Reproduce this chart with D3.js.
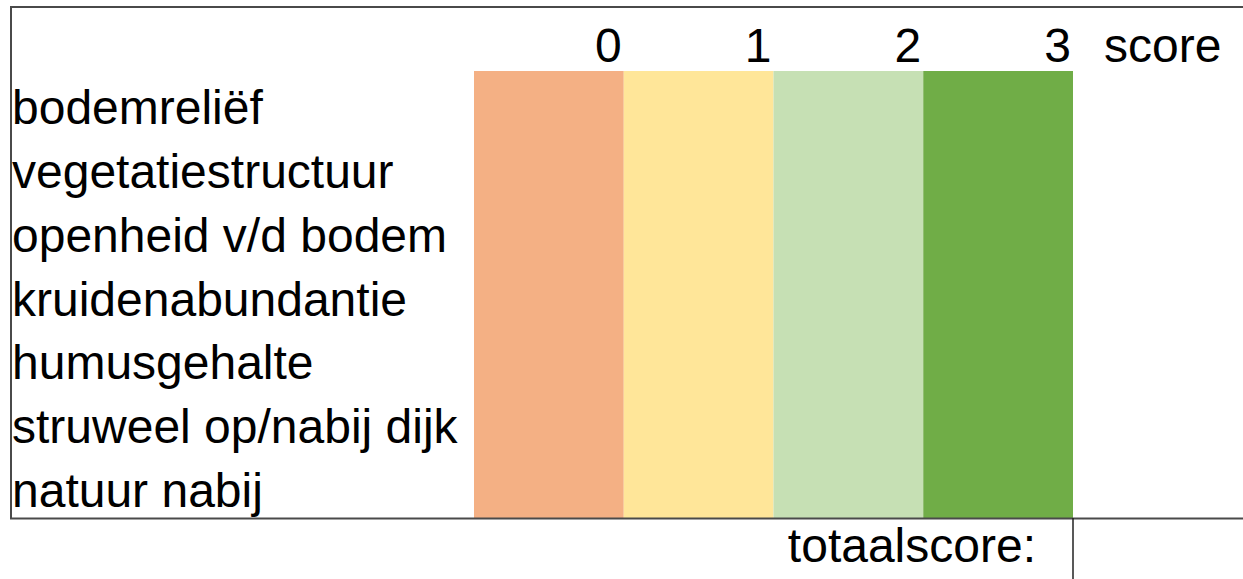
<!DOCTYPE html>
<html>
<head>
<meta charset="utf-8">
<script src="https://cdn.jsdelivr.net/npm/d3@7"></script>
<style>
  html, body { margin: 0; padding: 0; background: #fff; }
  svg { display: block; }
  text { font-family: "Liberation Sans", Arial, Helvetica, sans-serif; fill: #000; }
</style>
</head>
<body>
<svg id="chart" width="1243" height="579"></svg>
<script>
const criteria = ["bodemreliëf", "vegetatiestructuur", "openheid v/d bodem", "kruidenabundantie", "humusgehalte", "struweel op/nabij dijk", "natuur nabij"];
const scores = [0, 1, 2, 3];
const scoreColors = ["#F4B084", "#FFE699", "#C6E0B4", "#70AD47"];
const headerLabel = "score";
const totalLabel = "totaalscore:";

const W = 1243, H = 579;
const svg = d3.select("#chart");
const fontSize = 48;

const x = d3.scaleBand().domain(scores).range([474, 1073]).padding(0);
const y = d3.scaleBand().domain(criteria).range([71, 518]).padding(0);
const color = d3.scaleOrdinal().domain(scores).range(scoreColors);

// colour bands
svg.append("g").selectAll("rect").data(scores).join("rect")
  .attr("x", d => x(d))
  .attr("y", y.range()[0])
  .attr("width", x.bandwidth())
  .attr("height", y.range()[1] - y.range()[0])
  .attr("fill", d => color(d));

// frame lines
const lineColor = "#4a4a4a";
svg.append("line").attr("x1", 10).attr("x2", W).attr("y1", 7).attr("y2", 7)
  .attr("stroke", lineColor).attr("stroke-width", 2);
svg.append("line").attr("x1", 11).attr("x2", 11).attr("y1", 6).attr("y2", 519)
  .attr("stroke", lineColor).attr("stroke-width", 2);
svg.append("line").attr("x1", 10).attr("x2", W).attr("y1", 518.5).attr("y2", 518.5)
  .attr("stroke", lineColor).attr("stroke-width", 2);
svg.append("line").attr("x1", 1073).attr("x2", 1073).attr("y1", 518).attr("y2", H)
  .attr("stroke", "#222").attr("stroke-width", 1.5);

// score tick labels (right-aligned at band right edge)
svg.append("g").selectAll("text").data(scores).join("text")
  .attr("x", d => x(d) + x.bandwidth() - 2)
  .attr("y", 62)
  .attr("text-anchor", "end")
  .attr("font-size", fontSize)
  .text(d => d);

svg.append("text")
  .attr("x", 1104).attr("y", 62)
  .attr("font-size", fontSize)
  .text(headerLabel);

// criteria labels
svg.append("g").selectAll("text").data(criteria).join("text")
  .attr("x", 12)
  .attr("y", d => y(d) + 53)
  .attr("font-size", fontSize)
  .text(d => d);

// total score label
svg.append("text")
  .attr("x", 1036).attr("y", 562)
  .attr("text-anchor", "end")
  .attr("font-size", fontSize)
  .text(totalLabel);
</script>
</body>
</html>
